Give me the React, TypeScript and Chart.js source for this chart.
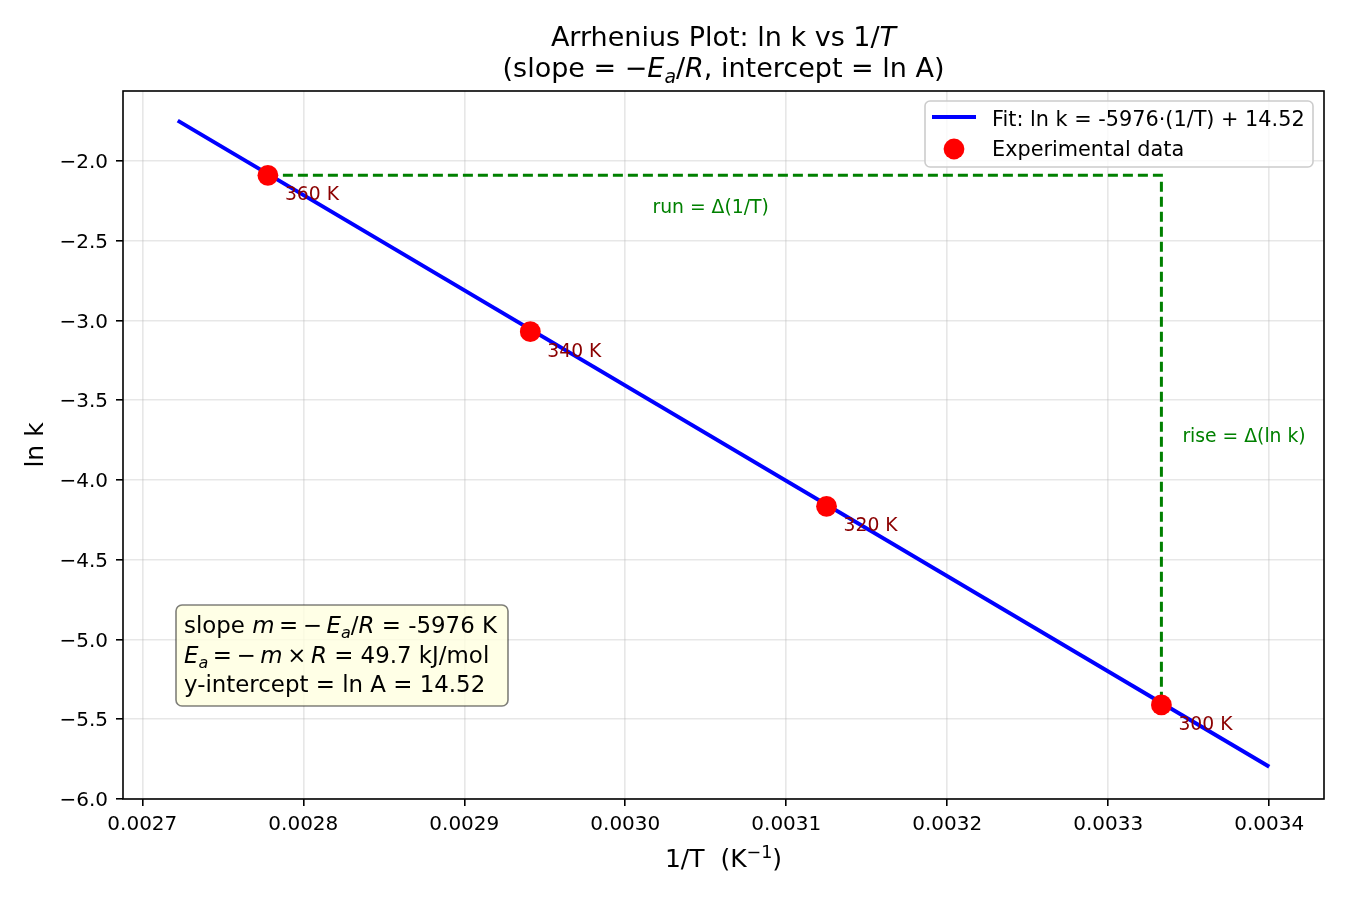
import React, { useEffect, useRef } from "react";
import { Chart, registerables } from "chart.js";

Chart.register(...registerables);

// Experimental points: reciprocal temperature (1/K) and ln k
const invT = [0.003333, 0.003125, 0.002941, 0.002778];
const lnK = [-5.41, -4.165, -3.07, -2.09];
const tempLabels = ["300 K", "320 K", "340 K", "360 K"];

// Least-squares fit parameters
const SLOPE = -5976;
const INTERCEPT = 14.52;
const fitX = [0.002722, 0.0034];

// Axis ticks
const xTicks = [0.0027, 0.0028, 0.0029, 0.003, 0.0031, 0.0032, 0.0033, 0.0034];
const yTicks = [-6.0, -5.5, -5.0, -4.5, -4.0, -3.5, -3.0, -2.5, -2.0];

const FAMILY = '"DejaVu Sans", sans-serif';
const TH = "\u2009"; // thin space used around math operators

type Seg = { t: string; it?: boolean; sub?: boolean; sup?: boolean };

function segFont(size: number, s: Seg) {
  const sz = s.sub || s.sup ? size * 0.7 : size;
  return `${s.it ? "italic " : ""}${sz}px ${FAMILY}`;
}

function richWidth(ctx: CanvasRenderingContext2D, segs: Seg[], size: number) {
  let w = 0;
  for (const s of segs) {
    ctx.font = segFont(size, s);
    w += ctx.measureText(s.t).width;
  }
  return w;
}

function drawRich(
  ctx: CanvasRenderingContext2D,
  segs: Seg[],
  x: number,
  y: number,
  size: number,
  align: "left" | "center",
  color: string
) {
  const total = richWidth(ctx, segs, size);
  let cx = align === "center" ? x - total / 2 : x;
  ctx.save();
  ctx.fillStyle = color;
  ctx.textAlign = "left";
  ctx.textBaseline = "alphabetic";
  for (const s of segs) {
    ctx.font = segFont(size, s);
    let dy = 0;
    if (s.sub) dy = size * 0.22;
    if (s.sup) dy = -size * 0.38;
    ctx.fillText(s.t, cx, y + dy);
    cx += ctx.measureText(s.t).width;
  }
  ctx.restore();
}

function roundRect(ctx: CanvasRenderingContext2D, x: number, y: number, w: number, h: number, r: number) {
  ctx.beginPath();
  ctx.moveTo(x + r, y);
  ctx.lineTo(x + w - r, y);
  ctx.arcTo(x + w, y, x + w, y + r, r);
  ctx.lineTo(x + w, y + h - r);
  ctx.arcTo(x + w, y + h, x + w - r, y + h, r);
  ctx.lineTo(x + r, y + h);
  ctx.arcTo(x, y + h, x, y + h - r, r);
  ctx.lineTo(x, y + r);
  ctx.arcTo(x, y, x + r, y, r);
  ctx.closePath();
}

const title1: Seg[] = [{ t: "Arrhenius Plot: ln k vs 1/" }, { t: "T", it: true }];
const title2: Seg[] = [
  { t: "(slope = " },
  { t: "\u2212" },
  { t: "E", it: true },
  { t: "a", it: true, sub: true },
  { t: "/" },
  { t: "R", it: true },
  { t: ", intercept = ln A)" },
];
const xLabel: Seg[] = [{ t: "1/T  (K" }, { t: "\u22121", sup: true }, { t: ")" }];

const boxLines: Seg[][] = [
  [
    { t: "slope " },
    { t: "m", it: true },
    { t: `${TH}=${TH}\u2212${TH}` },
    { t: "E", it: true },
    { t: "a", it: true, sub: true },
    { t: "/" },
    { t: "R", it: true },
    { t: " = -5976 K" },
  ],
  [
    { t: "E", it: true },
    { t: "a", it: true, sub: true },
    { t: `${TH}=${TH}\u2212${TH}` },
    { t: "m", it: true },
    { t: `${TH}\u00d7${TH}` },
    { t: "R", it: true },
    { t: " = 49.7 kJ/mol" },
  ],
  [{ t: "y-intercept = ln A = 14.52" }],
];

const decorations = {
  id: "decorations",
  afterDatasetsDraw(chart: any) {
    const ctx: CanvasRenderingContext2D = chart.ctx;
    const { left, right, top, bottom } = chart.chartArea;
    const xs = chart.scales.x;
    const ys = chart.scales.y;

    // frame
    ctx.save();
    ctx.strokeStyle = "#000";
    ctx.lineWidth = 1.6;
    ctx.strokeRect(left, top, right - left, bottom - top);
    ctx.restore();

    // temperature labels next to each point
    ctx.save();
    ctx.font = `18.75px ${FAMILY}`;
    ctx.fillStyle = "#8b0000";
    ctx.textAlign = "left";
    ctx.textBaseline = "alphabetic";
    invT.forEach((v, i) => {
      const px = xs.getPixelForValue(v);
      const py = ys.getPixelForValue(lnK[i]);
      ctx.fillText(tempLabels[i], px + 17, py + 25);
    });
    ctx.restore();

    // run / rise annotations
    const xa = xs.getPixelForValue(invT[3]);
    const xb = xs.getPixelForValue(invT[0]);
    const ya = ys.getPixelForValue(lnK[3]);
    const yb = ys.getPixelForValue(lnK[0]);
    ctx.save();
    ctx.font = `18.75px ${FAMILY}`;
    ctx.fillStyle = "#008000";
    ctx.textBaseline = "alphabetic";
    ctx.textAlign = "center";
    ctx.fillText("run = \u0394(1/T)", (xa + xb) / 2 - 4, ya + 38);
    ctx.textAlign = "left";
    ctx.fillText("rise = \u0394(ln k)", xb + 21, (ya + yb) / 2 + 2);
    ctx.restore();

    // summary box
    ctx.save();
    roundRect(ctx, 176, 605, 332, 101, 6);
    ctx.fillStyle = "rgba(255,255,224,0.8)";
    ctx.fill();
    ctx.strokeStyle = "rgba(0,0,0,0.5)";
    ctx.lineWidth = 1.6;
    ctx.stroke();
    ctx.restore();
    const baselines = [633, 663, 692];
    boxLines.forEach((segs, i) => drawRich(ctx, segs, 184, baselines[i], 22.9, "left", "#000"));

    // legend
    const lx = right - 399;
    const ly = top + 10;
    ctx.save();
    roundRect(ctx, lx, ly, 388, 66, 5);
    ctx.fillStyle = "rgba(255,255,255,0.8)";
    ctx.fill();
    ctx.strokeStyle = "#cccccc";
    ctx.lineWidth = 1.6;
    ctx.stroke();
    ctx.strokeStyle = "blue";
    ctx.lineWidth = 4;
    ctx.beginPath();
    ctx.moveTo(lx + 7, ly + 16);
    ctx.lineTo(lx + 51, ly + 16);
    ctx.stroke();
    ctx.fillStyle = "red";
    ctx.beginPath();
    ctx.arc(lx + 29, ly + 48, 10.4, 0, Math.PI * 2);
    ctx.fill();
    ctx.fillStyle = "#000";
    ctx.font = `20.8px ${FAMILY}`;
    ctx.textAlign = "left";
    ctx.textBaseline = "alphabetic";
    ctx.fillText("Fit: ln k = -5976\u00b7(1/T) + 14.52", lx + 67, ly + 25);
    ctx.fillText("Experimental data", lx + 67, ly + 55);
    ctx.restore();

    // titles
    const cx = (left + right) / 2;
    drawRich(ctx, title1, cx, 46, 27, "center", "#000");
    drawRich(ctx, title2, cx, 77, 27, "center", "#000");
    drawRich(ctx, xLabel, cx, 867, 25, "center", "#000");
    ctx.save();
    ctx.translate(43, (top + bottom) / 2);
    ctx.rotate(-Math.PI / 2);
    ctx.font = `25px ${FAMILY}`;
    ctx.fillStyle = "#000";
    ctx.textAlign = "center";
    ctx.textBaseline = "alphabetic";
    ctx.fillText("ln k", 0, 0);
    ctx.restore();
  },
};

export default function App() {
  const ref = useRef<HTMLCanvasElement>(null);

  useEffect(() => {
    document.body.style.margin = "0";
    const canvas = ref.current;
    if (!canvas) return;

    const points = invT.map((x, i) => ({ x, y: lnK[i] }));
    const fit = fitX.map((x) => ({ x, y: SLOPE * x + INTERCEPT }));
    const runRise = [
      { x: invT[3], y: lnK[3] },
      { x: invT[0], y: lnK[3] },
      { x: invT[0], y: lnK[0] },
    ];

    const gridCommon = {
      color: "rgba(176,176,176,0.3)",
      lineWidth: 1.6,
      drawTicks: true,
      tickLength: 7,
      tickColor: "#000",
      tickWidth: 1.6,
    };

    const chart = new Chart(canvas, {
      type: "scatter",
      data: {
        datasets: [
          {
            label: "Experimental data",
            data: points,
            pointRadius: 10.4,
            pointHoverRadius: 10.4,
            pointBackgroundColor: "red",
            pointBorderWidth: 0,
            showLine: false,
          },
          {
            label: "Fit",
            data: fit,
            showLine: true,
            borderColor: "blue",
            borderWidth: 4,
            pointRadius: 0,
            fill: false,
          },
          {
            label: "run/rise",
            data: runRise,
            showLine: true,
            borderColor: "#008000",
            borderWidth: 3,
            borderDash: [10, 5],
            pointRadius: 0,
            fill: false,
          },
        ],
      },
      options: {
        animation: false,
        responsive: false,
        devicePixelRatio: 1,
        layout: { padding: { top: 91, right: 26, left: 0, bottom: 0 } },
        plugins: {
          legend: { display: false },
          tooltip: { enabled: false },
          title: { display: false },
        },
        scales: {
          x: {
            type: "linear",
            min: 0.002688,
            max: 0.003434,
            afterBuildTicks: (s: any) => {
              s.ticks = xTicks.map((v) => ({ value: v }));
            },
            afterFit: (s: any) => {
              s.height = 101;
            },
            ticks: {
              autoSkip: false,
              maxRotation: 0,
              padding: 7,
              color: "#000",
              font: { family: FAMILY, size: 20 },
              callback: (v: any) => Number(v).toFixed(4),
            },
            grid: gridCommon,
            border: { display: false },
          },
          y: {
            type: "linear",
            min: -6.0,
            max: -1.561,
            afterBuildTicks: (s: any) => {
              s.ticks = yTicks.map((v) => ({ value: v }));
            },
            afterFit: (s: any) => {
              s.width = 123;
            },
            ticks: {
              autoSkip: false,
              padding: 8,
              labelOffset: 2,
              color: "#000",
              font: { family: FAMILY, size: 20 },
              callback: (v: any) => Number(v).toFixed(1).replace("-", "\u2212"),
            },
            grid: gridCommon,
            border: { display: false },
          },
        },
      },
      plugins: [decorations],
    });

    return () => chart.destroy();
  }, []);

  return (
    <div style={{ width: 1350, height: 900, background: "#fff" }}>
      <canvas ref={ref} width={1350} height={900} style={{ display: "block" }} />
    </div>
  );
}
